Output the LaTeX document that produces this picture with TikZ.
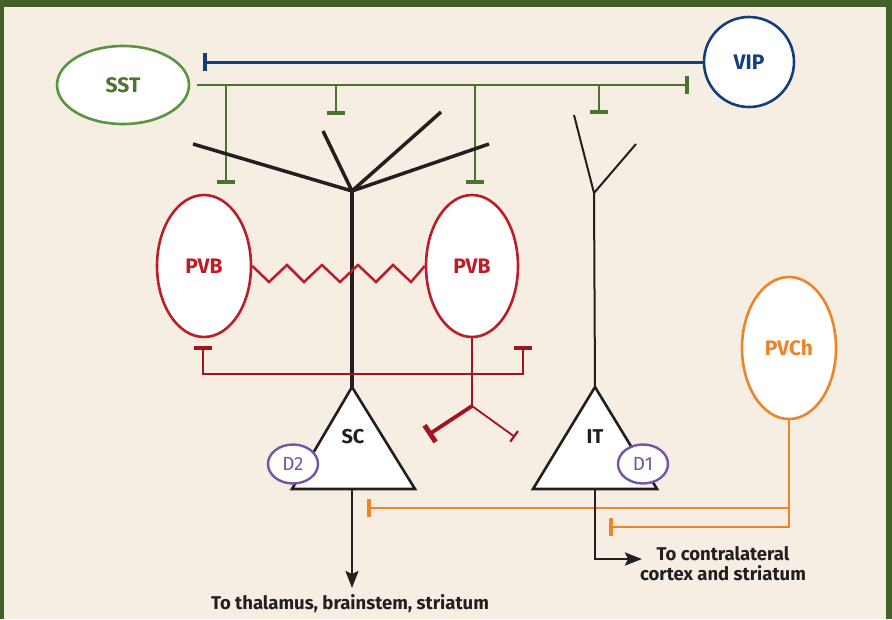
\documentclass[tikz,border=0pt]{standalone}
\usepackage{fontspec}
\setmainfont{Fira Sans}
\usetikzlibrary{shapes.geometric,arrows.meta}
\definecolor{bgbeige}{HTML}{F6EEE3}
\definecolor{frame}{HTML}{416128}
\definecolor{sstgreen}{HTML}{5B9441}
\definecolor{sstdark}{HTML}{4A7430}
\definecolor{vipblue}{HTML}{123F7C}
\definecolor{pvred}{HTML}{BC1E28}
\definecolor{pvdark}{HTML}{A3141D}
\definecolor{pvorange}{HTML}{EE842A}
\definecolor{dpurple}{HTML}{7454A8}
\definecolor{ink}{HTML}{231F20}

\begin{document}
\begin{tikzpicture}[x=1pt,y=-1pt,
    cell/.style={ellipse,draw,line width=2.6pt,fill=white,inner sep=0pt,
        font=\fontsize{21}{24}\selectfont\bfseries},
    receptor/.style={ellipse,draw=dpurple,line width=2.4pt,fill=white,inner sep=0pt,
        text=dpurple,minimum width=50pt,minimum height=39pt,font=\fontsize{19}{22}\selectfont},
    somalabel/.style={text=ink,font=\fontsize{20}{24}\selectfont\bfseries},
    soma/.style={draw=ink,line width=2.6pt,fill=white,line join=miter},
    inhib/.style={-{Bar[width=18pt,line width=4pt]}},
    sstline/.style={draw=sstdark,line width=2.5pt},
    pvline/.style={draw=pvdark,line width=2.4pt},
    pvchline/.style={draw=pvorange,line width=2.8pt},
    axon/.style={draw=ink,line width=2.6pt,-{Stealth[length=17pt,width=13pt,inset=3pt]}},
    outtext/.style={text=ink,align=center,font=\fontsize{18.5}{20}\selectfont\bfseries}
]
\useasboundingbox (0,0) rectangle (892,619);
\fill[frame] (0,0) rectangle (892,619);
\fill[bgbeige] (4,7) rectangle (886,619);

\node[cell,draw=sstgreen,text=sstdark,minimum width=132pt,minimum height=78pt] (sst) at (123,85) {SST};
\node[cell,draw=vipblue,text=vipblue,minimum width=90pt,minimum height=90pt] (vip) at (749,62) {VIP};
\node[cell,draw=pvred,text=pvred,minimum width=94pt,minimum height=142pt] (pvbL) at (204,266) {PVB};
\node[cell,draw=pvred,text=pvred,minimum width=92pt,minimum height=142pt] (pvbR) at (472,266) {PVB};
\node[cell,draw=pvorange,text=pvorange,minimum width=94pt,minimum height=142pt] (pvch) at (789,348) {PVCh};

% VIP and SST
\coordinate (vipend) at (203,62);
\coordinate (sstend) at (689,85);
\draw[draw=vipblue,line width=3pt,inhib] (vip.west) -- (vipend);
\draw[sstline,inhib] ([xshift=7pt]sst.east) -- (sstend);
\foreach \x/\y [count=\i] in {226/184,336/115,475/184,599/114}{
    \coordinate (g\i) at (\x,85);
    \draw[sstline,inhib] (g\i) -- (g\i |- 0,\y);
}

% SC pyramidal cell
\coordinate (scjoin) at (352,191);
\coordinate (scapex) at (352,387);
\coordinate (scbase) at (352,489);
\foreach \p in {(193,144),(323,131),(441,112),(489,144)}
    \draw[ink,line width=3.5pt] (scjoin) -- \p;
\draw[ink,line width=3.5pt] (scjoin) -- (scapex);

% IT pyramidal cell
\coordinate (itjoin) at (594,193);
\coordinate (itapex) at (595,387);
\coordinate (itbase) at (595,489);
\draw[ink,line width=2pt] (574,115) -- (itjoin) -- (636,144);
\draw[ink,line width=2pt] (itjoin) -- (itapex);

% gap junction
\draw[draw=pvred,line width=2.5pt,line join=miter] (pvbL.east) -- (269,282) -- (287,265) -- (304,282) -- (322,265)
    -- (340,282) -- (358,265) -- (376,282) -- (393,265) -- (411,282) -- (pvbR.west);

% PVB outputs
\coordinate (redL) at (203,346);
\coordinate (redR) at (523,346);
\coordinate (redjoin) at (472,406);
\draw[pvline,{Bar[width=18pt,line width=4pt]}-{Bar[width=18pt,line width=4pt]}]
    (redL) -- (redL |- 0,374) -- (redR |- 0,374) -- (redR);
\draw[pvline] (pvbR.south) -- (redjoin);
\draw[draw=pvdark,line width=3.8pt,-{Bar[width=20pt,line width=5pt]}] (redjoin) -- (428,435);
\draw[draw=pvdark,line width=1.8pt,-{Bar[width=13pt,line width=2.2pt]}] (redjoin) -- (515,437);

% somata
\draw[soma] (scapex) -- (292,489) -- (415,489) -- cycle;
\draw[soma] (itapex) -- (533,489) -- (657,489) -- cycle;
\node[somalabel] (sc) at (353,437) {SC};
\node[somalabel] (it) at (595,437) {IT};
\node[receptor] (d2) at (293,464) {D2};
\node[receptor] (d1) at (643,464) {D1};

% PVCh
\coordinate (orangeA) at (367,508);
\coordinate (orangeB) at (609,527);
\draw[pvchline,inhib] (pvch.south) -- (pvch.south |- orangeB) -- (orangeB);
\draw[pvchline,inhib] (pvch.south |- orangeA) -- (orangeA);

% outputs
\node[outtext] (thal) at (350,604) {To thalamus, brainstem, striatum};
\node[outtext] (contra) at (723,564) {To contralateral\\cortex and striatum};
\draw[axon] (scbase) -- (scbase |- 0,588);
\draw[axon] (itbase) -- (595,559) -- (642,559);
\end{tikzpicture}
\end{document}
